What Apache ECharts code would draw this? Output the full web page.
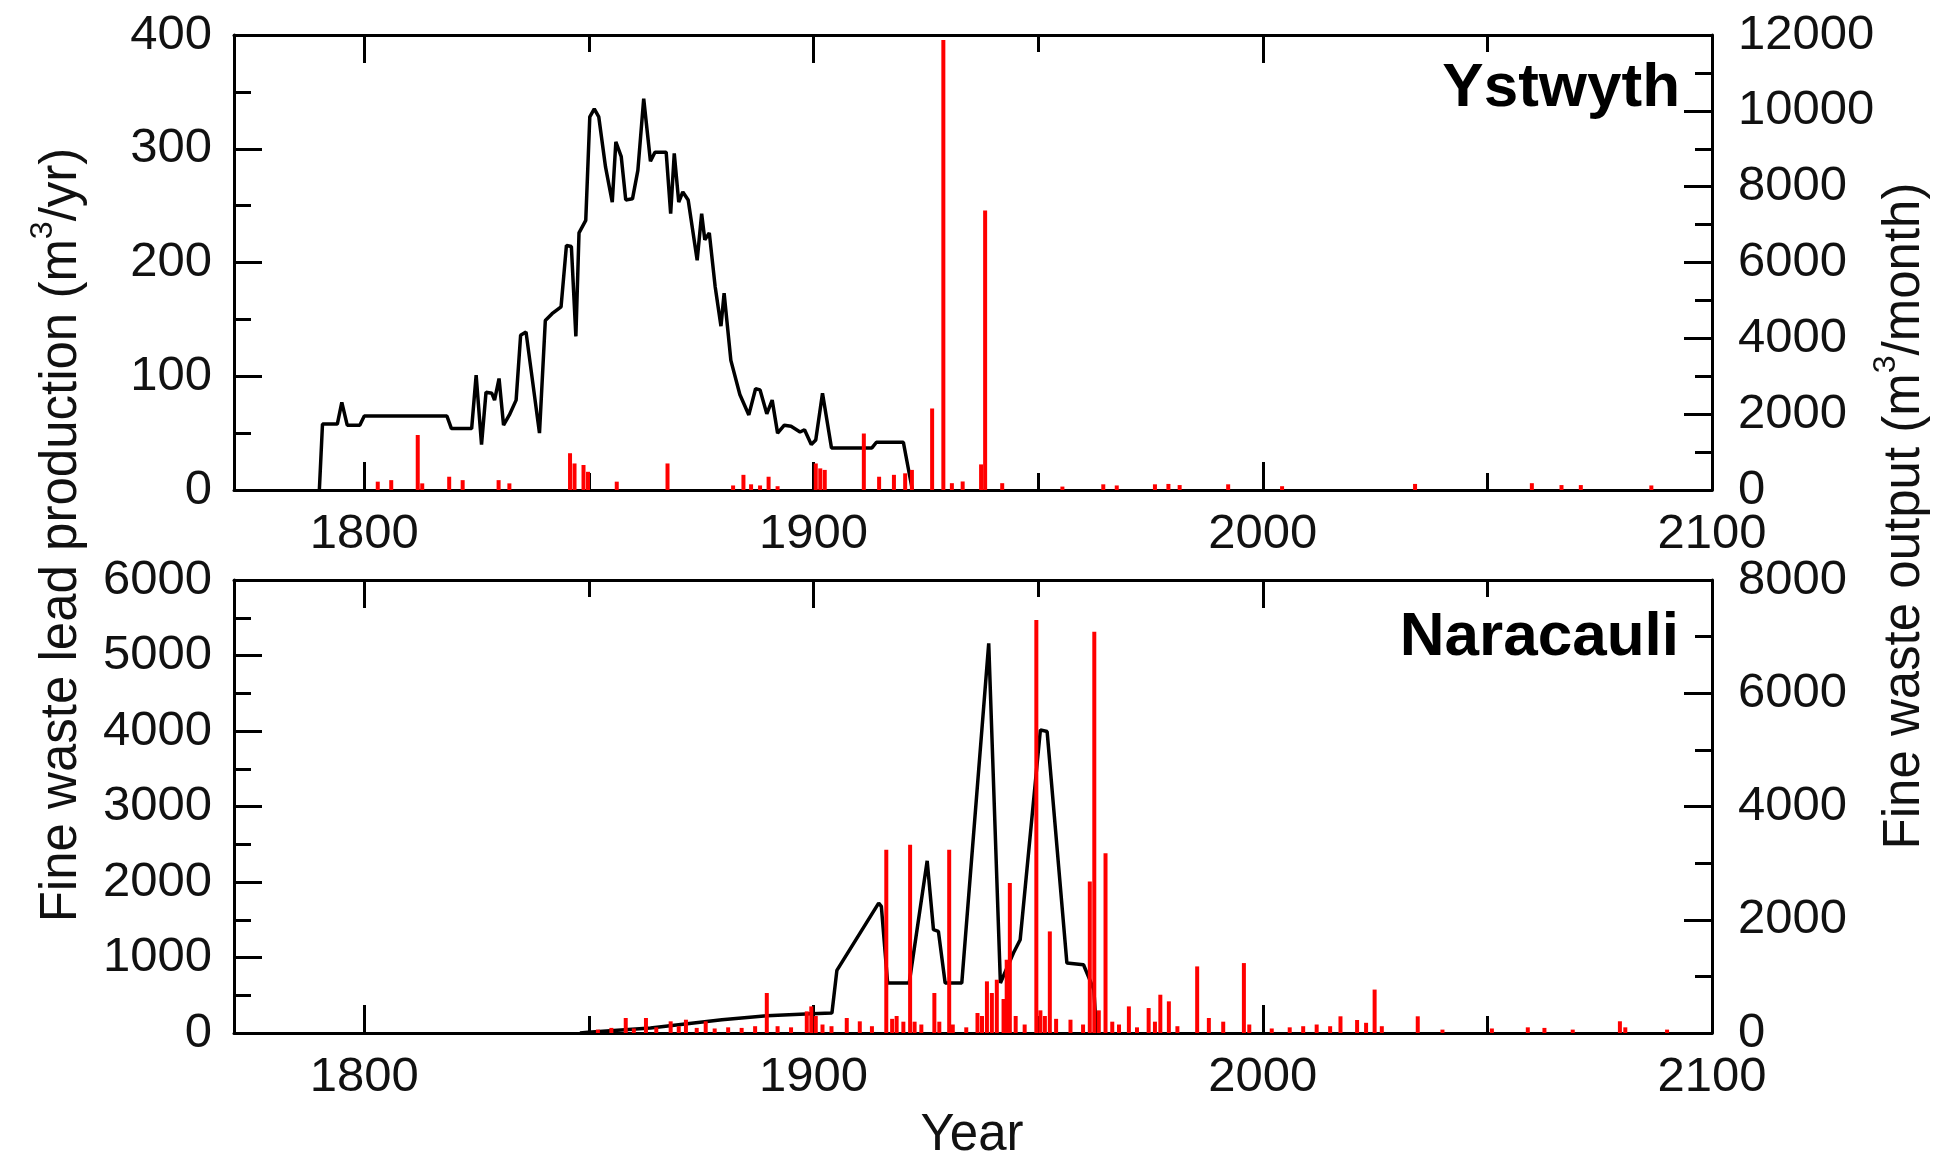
<!DOCTYPE html>
<html>
<head>
<meta charset="utf-8">
<script src="https://cdn.jsdelivr.net/npm/echarts@6/dist/echarts.min.js"></script>
<style>
html,body{margin:0;padding:0;background:#fff;}
#chart{width:1944px;height:1167px;}
</style>
</head>
<body>
<div id="chart"></div>
<script>
// ---------------- DATA ----------------
const yearMin = 1771, yearMax = 2100;
const yearLabels = [1800, 1900, 2000, 2100];
const yearMinorTicks = [1850, 1950, 2050];

// Ystwyth: fine waste lead production (m3/yr) [year, value]
const ystProduction = [
  [1790.0,0],[1790.7,58],[1794,58],[1795,77],[1796.2,57],[1799,57],[1800,65],[1818.4,65],
  [1819.4,54],[1823.9,54],[1824.9,101],[1826.1,40],[1827.1,86],[1828.4,85],[1829,79],[1830,98],
  [1831,57],[1832.3,66],[1833.8,79],[1834.8,136],[1836,139],[1839,50],[1840.3,149],[1841.8,155],
  [1843.8,161],[1845,215],[1846.1,214],[1847.1,135],[1847.8,226],[1849.3,237],[1850.2,328],
  [1851.2,335],[1852.2,328],[1853.7,284],[1855.2,253],[1856,306],[1857.2,293],[1858.2,255],
  [1859.7,256],[1860.9,281],[1862.2,344],[1863.7,289],[1864.7,297],[1867.2,297],[1868.2,243],
  [1869,296],[1870,253],[1870.9,262],[1872.1,255],[1874.1,202],[1875.1,243],[1875.8,220],
  [1876.8,226],[1878.1,179],[1879.4,144],[1880.1,173],[1881.6,114],[1883.6,84],[1885.6,66],
  [1887.1,89],[1888.1,88],[1889.6,67],[1890.8,79],[1892,50],[1893.5,57],[1895,56],[1897,51],
  [1898,53],[1899.5,40],[1900.5,44],[1902,85],[1904,37],[1913,37],[1914,42],[1920,42],[1922,0]
];
// Ystwyth: fine waste output (m3/month) [year, value]
const ystOutput = [
  [1803,220],[1806,260],[1811.9,1450],[1812.9,175],[1818.9,350],[1821.9,260],[1829.9,260],
  [1832.3,175],[1845.8,970],[1846.8,700],[1848.8,660],[1849.8,480],[1856.2,220],[1867.5,700],
  [1882.1,120],[1884.4,400],[1886.1,150],[1888.1,120],[1890,350],[1892,100],[1900.5,700],
  [1901.5,570],[1902.5,530],[1911.2,1490],[1914.6,350],[1917.9,400],[1920.4,440],[1921.9,530],
  [1926.4,2150],[1928.9,11870],[1930.8,180],[1933.2,225],[1937.3,675],[1938.2,7370],[1942,180],
  [1955.4,90],[1964.5,150],[1967.5,120],[1976,150],[1979,160],[1981.5,130],[1992.3,150],
  [2004.3,100],[2033.9,160],[2059.9,180],[2066.5,130],[2070.8,130],[2086.5,120]
];
// Naracauli: fine waste lead production (m3/yr)
const narProduction = [
  [1848,0],[1849.8,9],[1863.7,66],[1879.6,176],[1889.6,230],[1899.5,256],[1904.1,265],
  [1905.2,830],[1914.5,1720],[1915.1,1677],[1916.5,662],[1921.3,662],[1925.3,2280],
  [1926.7,1368],[1927.8,1346],[1929.3,662],[1933,662],[1939,5162],[1941.6,662],[1944.5,1059],
  [1946,1235],[1950.5,4015],[1952,3993],[1956.4,926],[1960.1,904],[1962.4,574],[1963,0]
];
// Naracauli: fine waste output (m3/month)
const narOutput = [
  [1852,60],[1855,90],[1858.2,265],[1860,80],[1862.7,265],[1865,100],[1868.2,206],[1870,120],
  [1871.6,235],[1874,90],[1876,206],[1878,80],[1881,100],[1884,90],[1887,120],[1889.6,706],
  [1892,120],[1895,100],[1898.5,382],[1899.5,470],[1900.5,300],[1902,150],[1904,120],
  [1907.4,265],[1910.3,206],[1913,120],[1916.2,3235],[1917.5,250],[1918.5,300],[1920,200],
  [1921.5,3323],[1922.5,200],[1924,150],[1926.9,706],[1928,200],[1930.2,3235],[1931,150],
  [1934,100],[1936.5,353],[1937.5,300],[1938.6,912],[1939.7,706],[1940.8,941],[1942.3,600],
  [1943,1294],[1943.7,2647],[1945,300],[1947,150],[1949.6,7294],[1950.5,400],[1951.5,300],
  [1952.6,1794],[1954,250],[1957.2,235],[1960,150],[1961.5,2676],[1962.5,7088],[1963.5,400],
  [1965,3176],[1966.5,200],[1968,150],[1970.2,470],[1972,100],[1974.6,441],[1976,200],
  [1977.2,676],[1979.1,559],[1981,120],[1985.4,1176],[1988,265],[1991.2,200],[1995.8,1235],
  [1997,150],[2002,80],[2006,100],[2009,120],[2012,150],[2015,120],[2017.3,295],[2021,230],
  [2023,180],[2024.9,767],[2026.5,120],[2034.5,295],[2040,60],[2051,80],[2059,100],
  [2062.7,90],[2069,60],[2079.5,207],[2080.7,100],[2090,60]
];

// ---------------- STYLE ----------------
const FONT = "'Liberation Sans', Arial, Helvetica, sans-serif";
const TXT = '#111';
const LW = 3;
const plain = v => String(v);

function xAxesFor(gi) {
  const base = {
    type: 'value', gridIndex: gi, min: yearMin, max: yearMax,
    splitLine: { show: false }
  };
  return [
    Object.assign({}, base, {
      position: 'bottom',
      axisLine: { show: true, onZero: false, lineStyle: { color: '#000', width: LW } },
      axisTick: { show: true, inside: true, length: 28, customValues: yearLabels, lineStyle: { color: '#000', width: LW } },
      axisLabel: { show: true, customValues: yearLabels, formatter: plain, fontSize: 49, fontFamily: FONT, color: TXT, margin: 20 }
    }),
    Object.assign({}, base, {
      position: 'bottom',
      axisLine: { show: false, onZero: false },
      axisTick: { show: true, inside: true, length: 17, customValues: yearMinorTicks, lineStyle: { color: '#000', width: LW } },
      axisLabel: { show: false }
    }),
    Object.assign({}, base, {
      position: 'top',
      axisLine: { show: true, onZero: false, lineStyle: { color: '#000', width: LW } },
      axisTick: { show: true, inside: true, length: 28, customValues: yearLabels, lineStyle: { color: '#000', width: LW } },
      axisLabel: { show: false }
    }),
    Object.assign({}, base, {
      position: 'top',
      axisLine: { show: false, onZero: false },
      axisTick: { show: true, inside: true, length: 17, customValues: yearMinorTicks, lineStyle: { color: '#000', width: LW } },
      axisLabel: { show: false }
    })
  ];
}

function yAxisFor(gi, pos, max, interval, margin) {
  return {
    type: 'value', gridIndex: gi, position: pos, min: 0, max: max, interval: interval,
    splitLine: { show: false },
    axisLine: { show: true, onZero: false, lineStyle: { color: '#000', width: LW } },
    axisTick: { show: true, inside: true, length: 28, lineStyle: { color: '#000', width: LW } },
    minorTick: { show: true, splitNumber: 2, length: 17, lineStyle: { color: '#000', width: LW } },
    axisLabel: { formatter: plain, fontSize: 49, fontFamily: FONT, color: TXT, margin: margin }
  };
}

const chart = echarts.init(document.getElementById('chart'), null, { renderer: 'canvas' });

const option = {
  backgroundColor: '#fff',
  animation: false,
  grid: [
    { left: 234, top: 35, width: 1478, height: 455, outerBoundsMode: 'none', containLabel: false },
    { left: 234, top: 580, width: 1478, height: 453, outerBoundsMode: 'none', containLabel: false }
  ],
  xAxis: xAxesFor(0).concat(xAxesFor(1)),
  yAxis: [
    yAxisFor(0, 'left', 400, 100, 22),
    yAxisFor(0, 'right', 12000, 2000, 26),
    yAxisFor(1, 'left', 6000, 1000, 22),
    yAxisFor(1, 'right', 8000, 2000, 26)
  ],
  series: [
    { type: 'line', name: 'Ystwyth production', xAxisIndex: 0, yAxisIndex: 0, data: ystProduction,
      showSymbol: false, lineStyle: { color: '#000', width: 3.5 }, z: 3 },
    { type: 'bar', name: 'Ystwyth output', xAxisIndex: 0, yAxisIndex: 1, data: ystOutput,
      barWidth: 4, itemStyle: { color: '#ff0000' }, z: 4 },
    { type: 'line', name: 'Naracauli production', xAxisIndex: 4, yAxisIndex: 2, data: narProduction,
      showSymbol: false, lineStyle: { color: '#000', width: 3.5 }, z: 3 },
    { type: 'bar', name: 'Naracauli output', xAxisIndex: 4, yAxisIndex: 3, data: narOutput,
      barWidth: 4, itemStyle: { color: '#ff0000' }, z: 4 }
  ],
  graphic: [
    { type: 'text', x: 1680, y: 89, z: 10,
      style: { text: 'Ystwyth', font: 'bold 62px ' + FONT, fill: '#000', align: 'right', verticalAlign: 'middle', textAlign: 'right', textVerticalAlign: 'middle' } },
    { type: 'text', x: 1679, y: 638, z: 10,
      style: { text: 'Naracauli', font: 'bold 62px ' + FONT, fill: '#000', align: 'right', verticalAlign: 'middle', textAlign: 'right', textVerticalAlign: 'middle' } },
    { type: 'text', x: 972, y: 1136, z: 10,
      style: { text: 'Year', font: '51px ' + FONT, fill: TXT, align: 'center', verticalAlign: 'middle', textAlign: 'center', textVerticalAlign: 'middle' } },
    { type: 'text', x: 62, y: 535, rotation: Math.PI / 2, z: 10,
      style: {
        text: '{a|Fine waste lead production (m}{s|3}{a|/yr)}',
        align: 'center', verticalAlign: 'middle', textAlign: 'center', textVerticalAlign: 'middle',
        rich: {
          a: { fontSize: 51, fontFamily: FONT, fill: TXT, color: TXT, lineHeight: 70, verticalAlign: 'middle' },
          s: { fontSize: 32, fontFamily: FONT, fill: TXT, color: TXT, lineHeight: 32, verticalAlign: 'top' }
        }
      } },
    { type: 'text', x: 1905, y: 516, rotation: Math.PI / 2, z: 10,
      style: {
        text: '{a|Fine waste output (m}{s|3}{a|/month)}',
        align: 'center', verticalAlign: 'middle', textAlign: 'center', textVerticalAlign: 'middle',
        rich: {
          a: { fontSize: 51, fontFamily: FONT, fill: TXT, color: TXT, lineHeight: 70, verticalAlign: 'middle' },
          s: { fontSize: 32, fontFamily: FONT, fill: TXT, color: TXT, lineHeight: 32, verticalAlign: 'top' }
        }
      } }
  ]
};
chart.setOption(option);
</script>
</body>
</html>
